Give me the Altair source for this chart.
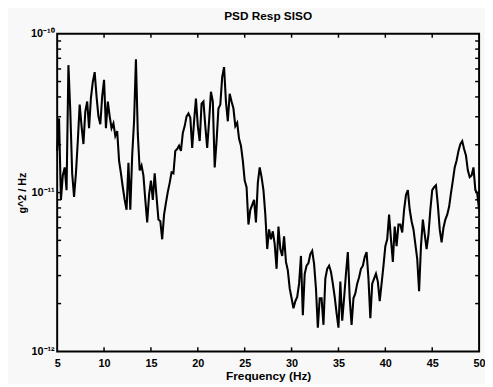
import altair as alt
import numpy as np
import pandas as pd

# Frequency grid (Hz), 0.2 Hz resolution from 5 to 50 Hz
freq = np.round(5.0 + 0.2 * np.arange(226), 1)

# PSD values, in units of 1e-12 g^2/Hz
psd_e12 = [
    18.3, 29.3, 8.99, 12.8, 14.4, 10.35, 63.4, 32.4, 13.2, 9.38,
    13.2, 21.1, 35.8, 26.2, 20.2, 32.4, 37.4, 25.4, 39.5, 49.7,
    57.3, 40.2, 30.2, 26.9, 40.2, 51.2, 25.4, 37.4, 30.2, 25.4,
    27.3, 22.7, 24.4, 15.9, 13.2, 10.8, 8.99, 7.79, 15.4, 7.79,
    17.1, 28.1, 69.0, 23.4, 13.8, 14.8, 12.8, 8.99, 6.48, 9.66,
    11.9, 8.99, 13.2, 9.38, 6.76, 6.6, 5.08, 7.26, 8.61, 10.1,
    11.5, 13.4, 13.2, 18.3, 18.8, 19.7, 18.3, 23.7, 26.2, 30.2,
    31.5, 29.6, 19.1, 28.1, 39.0, 26.2, 21.1, 36.3, 37.4, 26.2,
    19.1, 28.1, 43.1, 37.4, 14.4, 21.1, 33.8, 35.8, 53.4, 61.6,
    37.4, 28.1, 41.9, 37.4, 33.8, 26.2, 27.5, 21.8, 19.7, 15.9,
    11.9, 10.8, 6.29, 7.79, 8.37, 8.99, 6.48, 11.5, 14.4, 12.5,
    10.35, 7.26, 4.41, 5.86, 5.08, 5.7, 4.73, 3.31, 6.11, 4.41,
    3.99, 5.30, 3.66, 3.24, 2.49, 2.16, 1.87, 2.07, 2.2, 2.67,
    3.99, 1.69, 3.08, 3.46, 3.6, 4.10, 4.3, 3.56, 2.49, 1.41,
    2.16, 2.16, 1.47, 2.87, 3.31, 3.46, 3.17, 2.67, 2.2, 1.74,
    1.41, 2.75, 1.56, 2.16, 3.08, 4.22, 2.16, 1.47, 2.16, 2.32,
    2.67, 2.93, 3.31, 3.46, 3.93, 4.22, 2.87, 1.62, 2.67, 2.87,
    3.08, 2.75, 2.07, 2.67, 3.46, 4.6, 5.08, 7.26, 5.08, 3.66,
    6.11, 4.60, 6.29, 6.29, 5.61, 7.79, 9.66, 10.35, 7.79, 6.6,
    5.86, 4.73, 3.82, 2.39, 4.60, 6.76, 5.46, 4.41, 5.46, 7.79,
    10.35, 10.8, 11.1, 8.37, 5.86, 4.86, 6.0, 6.76, 7.26, 8.13,
    9.93, 11.9, 14.4, 15.9, 18.3, 20.2, 21.1, 18.8, 17.1, 13.8,
    12.5, 12.8, 14.4, 10.35, 9.93, 7.79,
]

x_ticks = [5, 10, 15, 20, 25, 30, 35, 40, 45, 50]
y_ticks = [1e-12, 1e-11, 1e-10]
y_minor = [2e-12, 3e-12, 4e-12, 5e-12, 6e-12, 7e-12, 8e-12, 9e-12, 1e-11,
           2e-11, 3e-11, 4e-11, 5e-11, 6e-11, 7e-11, 8e-11, 9e-11]

df = pd.DataFrame({"f": freq, "psd": np.array(psd_e12) * 1e-12})

x_scale = alt.Scale(domain=[5, 50], nice=False, zero=False)
y_scale = alt.Scale(type="log", domain=[1e-12, 1e-10], nice=False)

FONT = "Liberation Sans"

x_axis = alt.Axis(values=x_ticks, title="Frequency (Hz)", ticks=False, domain=False,
                  grid=False, labelPadding=6, labelFontSize=11, labelFontWeight="bold",
                  labelColor="black", titleFontSize=12, titleFontWeight="bold",
                  titleColor="black", titlePadding=3, labelFont=FONT, titleFont=FONT,
                  labelFlush=False)
y_axis = alt.Axis(values=y_ticks, title="g^2 / Hz", ticks=False, domain=False,
                  grid=False, labelPadding=3, labelFontSize=11, labelFontWeight="bold",
                  labelColor="black", titleFontSize=11, titleFontWeight="bold",
                  titleColor="black", titlePadding=3, labelFont=FONT, titleFont=FONT,
                  labelExpr="datum.value < 5e-12 ? '10⁻¹²' : (datum.value < 5e-11 ? '10⁻¹¹' : '10⁻¹⁰')")

line = alt.Chart(df).mark_line(color="black", strokeWidth=2.1, strokeJoin="miter").encode(
    x=alt.X("f:Q", scale=x_scale, axis=x_axis, title="Frequency (Hz)"),
    y=alt.Y("psd:Q", scale=y_scale, axis=y_axis, title="g^2 / Hz"),
)

# inward tick marks (MATLAB style), placed through the scales
xt = pd.DataFrame({"x": x_ticks[1:-1]})
bottom_ticks = alt.Chart(xt).mark_rule(color="black", strokeWidth=1.5).encode(
    x=alt.X("x:Q", scale=x_scale, axis=x_axis, title="Frequency (Hz)"),
    y=alt.datum(1e-12, scale=y_scale, axis=y_axis, title="g^2 / Hz"),
    y2=alt.datum(1.06e-12),
)
top_ticks = alt.Chart(xt).mark_rule(color="black", strokeWidth=1.5).encode(
    x=alt.X("x:Q", scale=x_scale, axis=x_axis, title="Frequency (Hz)"),
    y=alt.datum(1e-10 / 1.06, scale=y_scale, axis=y_axis, title="g^2 / Hz"),
    y2=alt.datum(1e-10),
)
yt = pd.DataFrame({"y": y_minor})
left_ticks = alt.Chart(yt).mark_rule(color="black", strokeWidth=1.5).encode(
    y=alt.Y("y:Q", scale=y_scale, axis=y_axis, title="g^2 / Hz"),
    x=alt.datum(5, scale=x_scale, axis=x_axis, title="Frequency (Hz)"),
    x2=alt.datum(5.42),
)
right_ticks = alt.Chart(yt).mark_rule(color="black", strokeWidth=1.5).encode(
    y=alt.Y("y:Q", scale=y_scale, axis=y_axis, title="g^2 / Hz"),
    x=alt.datum(49.58, scale=x_scale, axis=x_axis, title="Frequency (Hz)"),
    x2=alt.datum(50),
)

chart = alt.layer(line, bottom_ticks, top_ticks, left_ticks, right_ticks).properties(
    width=429,
    height=323,
    title=alt.Title("PSD Resp SISO", fontSize=12, fontWeight="bold", font=FONT,
                    color="black", offset=5),
    autosize=alt.AutoSizeParams(type="none"),
    padding={"left": 50, "top": 23, "right": 6, "bottom": 30},
    background="#f8f8f8",
).configure_view(stroke="black", strokeWidth=2)

chart.save("out.html", embed_options={"renderer": "svg", "actions": False})
